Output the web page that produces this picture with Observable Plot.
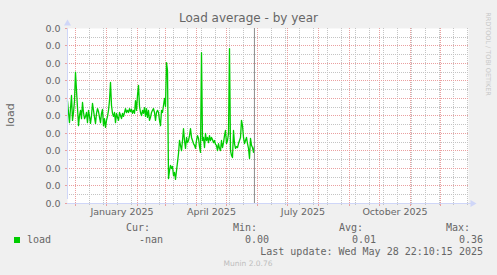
<!DOCTYPE html>
<html>
<head>
<meta charset="utf-8">
<script src="https://cdn.jsdelivr.net/npm/d3@7"></script>
<script src="https://cdn.jsdelivr.net/npm/@observablehq/plot@0.6"></script>
<style>
  html, body { margin: 0; padding: 0; background: #f0f0f0; }
  #wrap { position: relative; width: 497px; height: 275px; background: #f0f0f0; overflow: hidden; }
  #wrap svg { position: absolute; left: 0; top: 0; }
  .t { position: absolute; white-space: pre; line-height: 1; }
</style>
</head>
<body>
<div id="wrap"></div>
<script>
// ---- data ----
const title = "Load average - by year";
const yLabel = "load";
const seriesName = "load";
const startDate = "2024-11-23";           // first daily sample
const domainStart = "2024-11-23";
const domainEnd = "2025-12-29";
const nowTime = "2025-05-28T22:10:15Z";
const xLabelMonths = ["2025-01-01", "2025-04-01", "2025-07-01", "2025-10-01"];
const yMax = 0.04;
const yDivisions = 10;
const loadValues = [
  0.0235, 0.0208, 0.0185, 0.0217, 0.0247, 0.0190, 0.0208, 0.0235, 0.0300, 0.0258,
  0.0219, 0.0178, 0.0201, 0.0213, 0.0194, 0.0231, 0.0208, 0.0194, 0.0199, 0.0208,
  0.0185, 0.0213, 0.0199, 0.0183, 0.0201, 0.0229, 0.0213, 0.0197, 0.0183, 0.0206,
  0.0217, 0.0210, 0.0197, 0.0185, 0.0206, 0.0215, 0.0178, 0.0194, 0.0174, 0.0190,
  0.0199, 0.0213, 0.0235, 0.0277, 0.0224, 0.0206, 0.0199, 0.0208, 0.0185, 0.0206,
  0.0197, 0.0190, 0.0208, 0.0201, 0.0194, 0.0206, 0.0199, 0.0208, 0.0217, 0.0208,
  0.0213, 0.0208, 0.0217, 0.0210, 0.0215, 0.0206, 0.0213, 0.0206, 0.0235, 0.0213,
  0.0247, 0.0270, 0.0222, 0.0208, 0.0201, 0.0213, 0.0206, 0.0219, 0.0199, 0.0217,
  0.0197, 0.0213, 0.0190, 0.0197, 0.0208, 0.0213, 0.0217, 0.0208, 0.0190, 0.0208,
  0.0213, 0.0208, 0.0190, 0.0178, 0.0213, 0.0208, 0.0224, 0.0240, 0.0222, 0.0322,
  0.0304, 0.0057, 0.0075, 0.0087, 0.0080, 0.0085, 0.0064, 0.0071, 0.0055, 0.0075,
  0.0094, 0.0114, 0.0144, 0.0133, 0.0121, 0.0144, 0.0171, 0.0144, 0.0126, 0.0151,
  0.0139, 0.0144, 0.0155, 0.0171, 0.0151, 0.0144, 0.0137, 0.0133, 0.0126, 0.0144,
  0.0155, 0.0149, 0.0130, 0.0117, 0.0345, 0.0144, 0.0151, 0.0128, 0.0160, 0.0144,
  0.0151, 0.0139, 0.0155, 0.0144, 0.0151, 0.0146, 0.0139, 0.0144, 0.0135, 0.0133,
  0.0121, 0.0137, 0.0126, 0.0121, 0.0144, 0.0128, 0.0139, 0.0155, 0.0167, 0.0137,
  0.0144, 0.0160, 0.0354, 0.0121, 0.0110, 0.0105, 0.0167, 0.0137, 0.0126, 0.0130,
  0.0128, 0.0137, 0.0144, 0.0151, 0.0190, 0.0178, 0.0151, 0.0137, 0.0144, 0.0151,
  0.0137, 0.0126, 0.0103, 0.0149, 0.0133, 0.0128, 0.0117, 0.0130
];
const legendHeaders = ["Cur:", "Min:", "Avg:", "Max:"];
const legendValues = ["-nan", "0.00", "0.01", "0.36"];
const lastUpdate = "Last update: Wed May 28 22:10:15 2025";
const footer = "Munin 2.0.76";
const watermark = "RRDTOOL / TOBI OETIKER";

// ---- layout ----
const W = 497, H = 275, mL = 67, mR = 29, mT = 28, mB = 72;
const PH = H - mT - mB; // plot height in px

// ---- build ----
const start = new Date(startDate + "T00:00:00Z");
const data = loadValues.map((v, i) => ({ date: d3.utcDay.offset(start, i), value: v }));
const x0 = new Date(domainStart + "T00:00:00Z");
const x1 = new Date(domainEnd + "T00:00:00Z");
const monthStarts = d3.utcMonth.range(d3.utcMonth.ceil(x0), x1);
const minorStart = new Date("2024-12-01T00:00:00Z");
const biweekly = d3.utcDay.range(minorStart, x1, 1).filter((d, i) => i % 14 === 0);
const labelDates = xLabelMonths.map(s => {
  const a = new Date(s + "T00:00:00Z");
  const b = d3.utcMonth.offset(a, 1);
  return new Date((+a + +b) / 2);
});
// grid values snapped to whole pixels (as rrdtool does)
const pxStep = PH / yDivisions;
const majorY = d3.range(0, yDivisions + 1).map(k => yMax * (1 - Math.floor(k * pxStep) / PH));
const minorY = d3.range(0, yDivisions).map(k => yMax * (1 - Math.round(k * pxStep + pxStep / 2) / PH));

const MAJOR = "#eaa0a0";
const MINOR = "#c4c4c4";
const AXIS = "#cfd6f8";

const chart = Plot.plot({
  width: W,
  height: H,
  marginLeft: mL,
  marginRight: mR,
  marginTop: mT,
  marginBottom: mB,
  x: { type: "utc", domain: [x0, x1], label: null },
  y: { domain: [0, yMax], label: null },
  style: { background: "transparent", color: "#666", fontFamily: "DejaVu Sans", fontSize: "9.5px", overflow: "visible" },
  marks: [
    Plot.frame({ fill: "white", stroke: null }),
    Plot.ruleY(minorY, { stroke: MINOR, strokeDasharray: "1,1" }),
    Plot.ruleX(biweekly, { stroke: MINOR, strokeDasharray: "1,1" }),
    Plot.ruleY(majorY.slice(1), { stroke: MAJOR, strokeDasharray: "1,1" }),
    Plot.ruleX(monthStarts, { stroke: MAJOR, strokeDasharray: "1,1" }),
    Plot.axisY({ ticks: majorY, tickFormat: d3.format(".1f"), label: null, tickSize: 2, tickPadding: 5, stroke: MAJOR, fontSize: 9.5, fill: "#666" }),
    Plot.axisX({ ticks: biweekly, tickSize: 2, stroke: MINOR, text: null, label: null }),
    Plot.axisX({ ticks: monthStarts, tickSize: 3, stroke: MAJOR, text: null, label: null }),
    Plot.axisX({ ticks: labelDates, tickSize: 0, tickPadding: 5, label: null, tickFormat: d3.utcFormat("%B %Y"), fontSize: 9.5, fill: "#666" }),
    Plot.lineY(data, { x: "date", y: "value", stroke: "#00cc00", strokeWidth: 1.3 }),
    Plot.ruleX([new Date(nowTime)], { stroke: "#8c8c8c", strokeWidth: 1 }),
    Plot.ruleY([0], { x1: x0, x2: x1, stroke: AXIS, insetRight: -3 }),
    Plot.ruleX([x0], { y1: 0, y2: yMax, stroke: AXIS, insetTop: -4 }),
    Plot.dot([x1], { x: d => d, y: 0, symbol: "triangle", r: 2.6, fill: AXIS, stroke: null, rotate: 90, dx: 4 }),
    Plot.dot([x0], { x: d => d, y: yMax, symbol: "triangle", r: 2.6, fill: AXIS, stroke: null, dy: -5 })
  ]
});

// align the dotted patterns to whole pixels
chart.querySelectorAll('g[aria-label="rule"]').forEach(g => {
  if (!g.getAttribute("stroke-dasharray")) return;
  const m = /translate\(([-\d.e]+),\s*([-\d.e]+)\)/.exec(g.getAttribute("transform") || "");
  const tx = m ? +m[1] : 0, ty = m ? +m[2] : 0;
  const line = g.querySelector("line");
  if (!line) return;
  const horizontal = line.getAttribute("y1") === line.getAttribute("y2");
  const start = horizontal ? +line.getAttribute("x1") + tx : +line.getAttribute("y1") + ty;
  const frac = ((start % 1) + 1) % 1;
  if (frac) g.setAttribute("stroke-dashoffset", frac);
});

const wrap = document.getElementById("wrap");
wrap.appendChild(chart);

function addText(txt, x, y, opts = {}) {
  const el = document.createElement("div");
  el.className = "t";
  el.textContent = txt;
  const anchor = opts.anchor || "start";
  const tx = anchor === "middle" ? "-50%" : anchor === "end" ? "-100%" : "0";
  el.style.left = x + "px";
  el.style.top = y + "px";
  el.style.fontFamily = opts.family || "DejaVu Sans";
  el.style.fontSize = (opts.size || 10) + "px";
  el.style.color = opts.color || "#666";
  let t = `translate(${tx}, -50%)`;
  if (opts.rotate) t += ` rotate(${opts.rotate}deg)`;
  el.style.transform = t;
  if (opts.vertical) el.style.writingMode = "vertical-rl";
  wrap.appendChild(el);
  return el;
}

addText(title, 248.5, 18, { anchor: "middle", size: 12, color: "#666" });
addText(yLabel, 10, 115, { anchor: "middle", size: 11, rotate: -90 });
addText(watermark, 488, 54, { anchor: "middle", size: 6.5, color: "#c8c8c8", vertical: true });

// legend
const sq = document.createElement("div");
sq.style.cssText = "position:absolute;left:14px;top:237px;width:6px;height:6px;background:#00cc00;";
wrap.appendChild(sq);
const mono = "DejaVu Sans Mono";
addText(seriesName, 27, 240, { family: mono, size: 10 });
const headerRight = [150, 257, 363, 470];
const valueRight = [163, 269, 376, 483];
legendHeaders.forEach((h, i) => addText(h, headerRight[i], 228, { anchor: "end", family: mono, size: 10 }));
legendValues.forEach((v, i) => addText(v, valueRight[i], 240, { anchor: "end", family: mono, size: 10 }));
addText(lastUpdate, 483, 251.5, { anchor: "end", family: mono, size: 10 });
addText(footer, 248, 264, { anchor: "middle", size: 7.5, color: "#bdbdbd" });
</script>
</body>
</html>
